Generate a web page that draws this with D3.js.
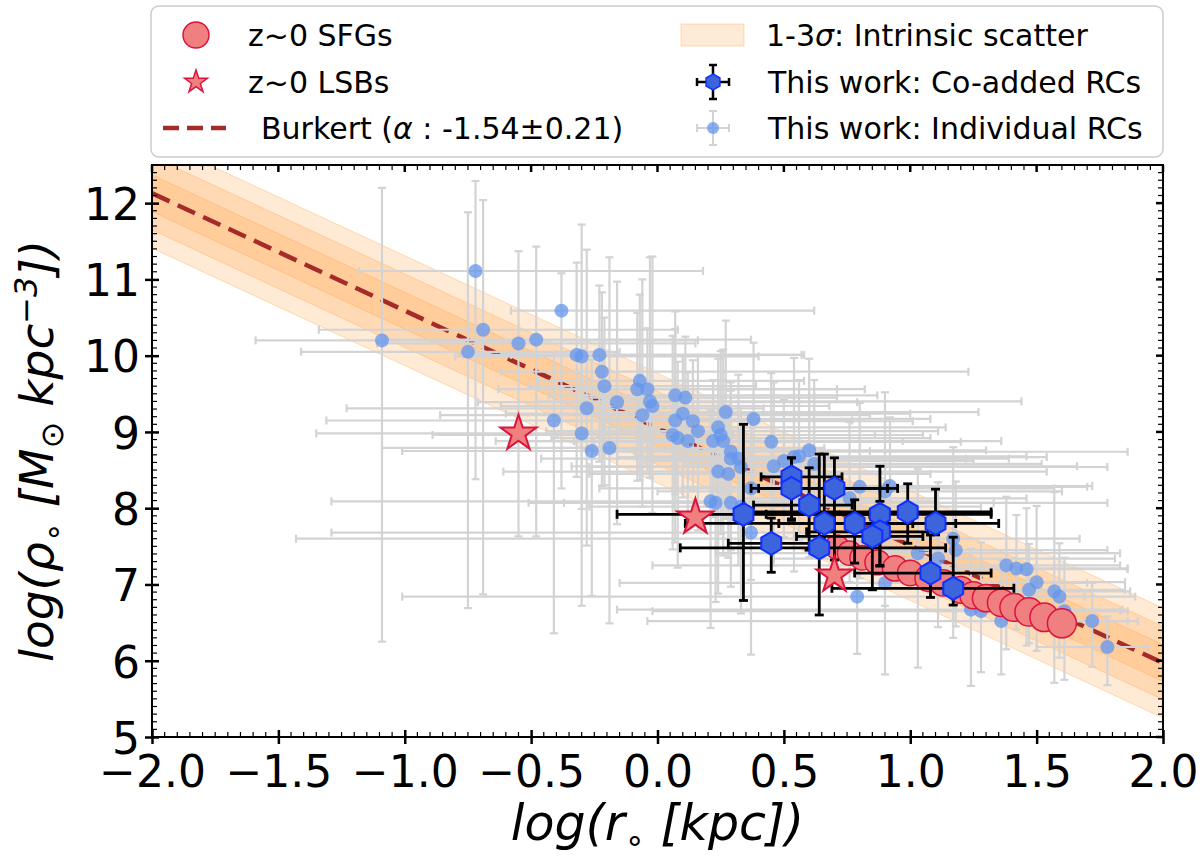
<!DOCTYPE html>
<html>
<head>
<meta charset="utf-8">
<script src="https://cdn.jsdelivr.net/npm/d3@7"></script>
<style>
  body { margin: 0; background: #fff; }
  text { font-family: "DejaVu Sans", sans-serif; }
</style>
</head>
<body>
<svg id="chart" width="1200" height="867"></svg>
<script>
'use strict';

//DATA=======================================================
// individual rotation curves (log r0, log rho0) with asymmetric errors
const indX = [-1.09,-0.72,-0.69,-0.75,-0.55,-0.48,-0.38,-0.32,-0.30,-0.23,
  -0.22,-0.21,-0.16,-0.28,-0.41,-0.30,-0.26,-0.19,-0.07,-0.08,
  -0.04,-0.03,-0.02,-0.06,0.07,0.11,0.10,0.07,0.14,0.16,
  0.06,0.08,0.12,0.27,0.38,0.24,0.25,0.22,0.26,0.45,
  0.29,0.29,0.32,0.33,0.24,0.28,0.60,0.56,0.46,0.50,
  0.54,0.37,0.21,0.23,0.29,0.33,0.37,0.80,0.90,1.17,
  1.18,1.03,1.11,0.90,0.79,1.38,1.42,1.46,1.50,1.47,
  1.57,1.59,1.24,1.28,1.36,1.61,1.72,1.78,0.92,0.76,0.62];
const indY = [10.20,11.11,10.34,10.05,10.16,10.21,10.59,10.01,9.99,10.01,
  9.79,9.60,9.39,9.31,9.15,8.98,8.75,8.79,9.67,9.56,
  9.56,9.40,9.34,9.22,9.48,9.45,9.24,9.15,9.14,9.01,
  8.96,8.92,8.88,9.26,9.17,9.06,8.96,8.88,8.88,8.87,
  8.74,8.65,8.65,8.54,8.48,8.45,8.76,8.68,8.55,8.62,
  8.67,8.26,8.09,8.07,8.07,8.02,7.68,8.28,8.22,7.60,
  7.45,7.41,7.34,7.02,6.84,7.25,7.21,7.20,7.03,6.93,
  6.91,6.84,6.67,6.65,6.52,6.65,6.52,6.18,8.29,8.13,8.58];
const indXLo = [0.50,0.46,0.65,0.66,0.56,0.60,0.20,0.45,0.50,0.35,
  0.40,0.30,0.55,0.95,0.90,1.05,0.75,0.90,0.40,0.55,
  0.30,0.45,0.60,0.80,0.50,0.40,0.70,0.45,0.55,0.60,
  0.95,0.50,0.70,0.55,0.60,0.45,0.65,0.55,0.90,0.70,
  0.50,0.75,0.40,0.60,0.85,0.55,0.90,0.65,0.80,0.55,
  0.70,0.60,1.50,0.60,0.80,0.60,1.66,0.70,0.90,2.60,
  0.55,0.80,0.65,1.05,1.80,1.40,0.40,0.35,0.30,0.40,
  0.35,0.30,1.40,1.30,1.40,0.25,0.20,0.28,0.60,0.55,0.50];
const indXHi = [1.25,0.90,0.77,0.60,0.70,0.85,1.00,0.90,0.70,0.80,
  1.45,0.60,0.95,0.70,0.80,0.60,1.10,0.85,0.65,0.90,
  0.75,1.47,0.70,0.90,0.80,0.60,0.90,0.70,0.87,0.95,
  0.80,1.00,0.85,1.00,0.70,0.90,0.80,0.70,1.10,0.75,
  1.57,1.10,0.90,1.45,1.30,0.80,0.70,0.90,1.20,0.75,
  1.00,1.20,0.90,1.10,1.49,0.95,0.80,0.90,0.70,0.50,
  0.60,0.80,0.70,0.80,0.90,0.45,0.44,0.40,0.35,0.38,
  0.30,0.30,0.60,0.55,0.50,0.25,0.18,0.16,0.80,0.70,0.90];
const indYLo = [3.95,2.73,3.47,3.36,2.53,2.58,2.33,1.60,2.00,1.40,
  1.50,1.30,1.60,1.80,2.79,2.26,1.90,2.30,1.30,1.20,
  1.10,1.00,1.40,1.20,1.30,0.90,1.10,1.60,0.90,1.30,
  1.50,1.70,1.10,1.40,1.20,1.00,1.30,1.00,1.50,1.20,
  0.90,1.20,1.40,1.00,1.60,1.10,1.40,1.10,1.30,1.00,
  1.50,1.20,1.66,1.30,1.10,1.40,1.60,1.20,1.50,1.30,
  1.00,1.50,0.90,1.20,0.75,1.10,0.80,1.00,0.90,0.70,
  1.20,0.80,1.00,0.80,0.70,0.90,0.60,0.50,1.00,1.10,1.20];
const indYHi = [2.00,1.18,1.70,1.83,1.21,1.22,0.49,1.21,1.73,0.91,
  1.04,0.90,1.58,2.08,0.90,1.10,1.20,2.50,1.13,1.00,
  0.80,1.89,1.96,1.78,1.10,0.80,0.76,1.20,0.80,1.00,
  1.30,1.00,0.90,1.20,1.00,0.90,1.10,0.80,1.20,0.90,
  0.80,1.00,1.10,0.80,1.20,0.90,1.20,1.00,1.10,0.80,
  1.30,1.00,1.20,1.00,0.90,1.00,1.10,1.10,1.30,1.20,
  0.90,1.10,1.00,1.30,1.00,0.90,0.70,0.80,1.00,0.60,
  1.30,0.70,0.80,0.90,0.80,0.70,0.50,0.40,0.90,1.00,1.10];

// co-added rotation curves
const coX = [0.34,0.45,0.53,0.53,0.70,0.60,0.66,0.64,0.78,0.88,0.88,0.85,0.99,1.10,1.08,1.17];
const coY = [7.92,7.54,8.41,8.26,8.26,8.04,7.80,7.48,7.80,7.92,7.69,7.63,7.95,7.80,7.15,6.95];
const coXLo = [0.50,0.17,0.12,0.16,0.30,0.22,0.55,0.55,0.30,0.45,0.29,0.30,0.63,0.35,0.30,0.48];
const coXHi = [0.50,0.18,0.20,0.38,0.25,0.17,0.35,0.50,0.40,0.44,0.19,0.20,0.33,0.25,0.24,0.24];
const coYLo = [1.13,0.38,0.57,0.40,0.94,0.59,0.38,0.88,0.52,0.67,0.45,0.70,0.41,0.15,0.32,0.22];
const coYHi = [1.18,0.33,0.25,0.40,0.40,0.49,0.91,1.23,0.31,0.63,0.40,0.30,0.37,0.45,0.50,0.67];

// z~0 star forming galaxies and low surface brightness galaxies
const sfgX = [0.71,0.76,0.81,0.87,0.94,1.00,1.07,1.13,1.20,1.25,1.30,1.36,1.41,1.47,1.53,1.60];
const sfgY = [7.49,7.41,7.35,7.29,7.21,7.15,7.08,7.02,6.93,6.86,6.82,6.76,6.70,6.64,6.57,6.49];
const lsbX = [-0.55, 0.15, 0.70];
const lsbY = [8.98, 7.88, 7.12];

// Burkert fit and intrinsic scatter
const fitSlope = -1.54;
const fitIntercept = 9.05;
const scatterSigma = 0.24;
const sigmaLevels = [3, 2, 1];

const xTicks = [-2.0, -1.5, -1.0, -0.5, 0.0, 0.5, 1.0, 1.5, 2.0];
const yTicks = [5, 6, 7, 8, 9, 10, 11, 12];

//SETUP======================================================
const pLeft = 152, pRight = 1163, pTop = 165, pBottom = 737;
const svg = d3.select('#chart');

const xScale = d3.scaleLinear().domain([-2, 2]).range([pLeft, pRight]);
const yScale = d3.scaleLinear().domain([5, 12.5]).range([pBottom, pTop]);

svg.append('defs').append('clipPath').attr('id', 'plotClip')
  .append('rect')
  .attr('x', pLeft).attr('y', pTop)
  .attr('width', pRight - pLeft).attr('height', pBottom - pTop);

const plot = svg.append('g').attr('clip-path', 'url(#plotClip)');

//scatter bands, widest first
const bandColor = '#ffa040';
sigmaLevels.forEach(n => {
  const area = d3.area()
    .x(d => xScale(d))
    .y0(d => yScale(fitIntercept + fitSlope * d - n * scatterSigma))
    .y1(d => yScale(fitIntercept + fitSlope * d + n * scatterSigma));
  plot.append('path')
    .datum([-2.3, 2.3])
    .attr('d', area)
    .attr('fill', bandColor)
    .attr('fill-opacity', 0.22)
    .attr('stroke', bandColor)
    .attr('stroke-opacity', 0.35)
    .attr('stroke-width', 1);
});

//fit line
plot.append('line')
  .attr('x1', xScale(-2.3)).attr('y1', yScale(fitIntercept + fitSlope * -2.3))
  .attr('x2', xScale(2.3)).attr('y2', yScale(fitIntercept + fitSlope * 2.3))
  .attr('stroke', '#a52a2a')
  .attr('stroke-width', 4.5)
  .attr('stroke-dasharray', '19,9');

//errorbar helper: draws the bars + caps for a set of points
function errorBars(g, xs, ys, xLo, xHi, yLo, yHi, color, width, cap) {
  const segs = [];
  d3.range(xs.length).forEach(i => {
    const cx = xScale(xs[i]), cy = yScale(ys[i]);
    const x0 = xScale(xs[i] - xLo[i]), x1 = xScale(xs[i] + xHi[i]);
    const y0 = yScale(ys[i] - yLo[i]), y1 = yScale(ys[i] + yHi[i]);
    segs.push([x0, cy, x1, cy], [cx, y0, cx, y1],
      [x0, cy - cap, x0, cy + cap], [x1, cy - cap, x1, cy + cap],
      [cx - cap, y0, cx + cap, y0], [cx - cap, y1, cx + cap, y1]);
  });
  g.selectAll(null).data(segs).enter().append('line')
    .attr('x1', d => d[0]).attr('y1', d => d[1])
    .attr('x2', d => d[2]).attr('y2', d => d[3])
    .attr('stroke', color)
    .attr('stroke-width', width);
}

//individual RCs
errorBars(plot.append('g'), indX, indY, indXLo, indXHi, indYLo, indYHi, '#d3d3d3', 2.2, 4);
plot.append('g').selectAll('circle')
  .data(d3.range(indX.length)).enter().append('circle')
  .attr('cx', i => xScale(indX[i]))
  .attr('cy', i => yScale(indY[i]))
  .attr('r', 7)
  .attr('fill', '#6495ed')
  .attr('fill-opacity', 0.75);

//SFGs, markers grow slightly along the sequence
const sfgRadius = d3.scaleLinear().domain(d3.extent(sfgX)).range([12, 14.5]);
plot.append('g').selectAll('circle')
  .data(d3.range(sfgX.length)).enter().append('circle')
  .attr('cx', i => xScale(sfgX[i]))
  .attr('cy', i => yScale(sfgY[i]))
  .attr('r', i => sfgRadius(sfgX[i]))
  .attr('fill', '#f08080')
  .attr('stroke', '#dc143c')
  .attr('stroke-width', 1.5);

//star + hexagon shapes
function starPath(R) {
  const pts = d3.range(10).map(k => [k * Math.PI / 5, k % 2 ? R * 0.382 : R]);
  return d3.lineRadial().curve(d3.curveLinearClosed)(pts);
}
function hexPath(R) {
  const pts = d3.range(6).map(k => [k * Math.PI / 3, R]);
  return d3.lineRadial().curve(d3.curveLinearClosed)(pts);
}

//co-added RCs
errorBars(plot.append('g'), coX, coY, coXLo, coXHi, coYLo, coYHi, '#000', 2.8, 4.5);

//LSBs
plot.append('g').selectAll('path')
  .data(d3.range(lsbX.length)).enter().append('path')
  .attr('d', starPath(19))
  .attr('transform', i => `translate(${xScale(lsbX[i])},${yScale(lsbY[i])})`)
  .attr('fill', '#f08080')
  .attr('stroke', '#dc143c')
  .attr('stroke-width', 2)
  .attr('stroke-linejoin', 'miter');

plot.append('g').selectAll('path')
  .data(d3.range(coX.length)).enter().append('path')
  .attr('d', hexPath(11.5))
  .attr('transform', i => `translate(${xScale(coX[i])},${yScale(coY[i])})`)
  .attr('fill', '#3c64dc')
  .attr('stroke', '#1030ff')
  .attr('stroke-width', 2);

//AXES=======================================================
const tickFont = 44;
const xAxis = svg.append('g')
  .attr('transform', `translate(0,${pBottom})`)
  .call(d3.axisBottom(xScale).tickValues(xTicks).tickFormat(d3.format('.1f')).tickSizeOuter(0));
const yAxis = svg.append('g')
  .attr('transform', `translate(${pLeft},0)`)
  .call(d3.axisLeft(yScale).tickValues(yTicks).tickFormat(d3.format('d')).tickSizeOuter(0));

[xAxis, yAxis].forEach(ax => {
  ax.select('.domain').remove();
  ax.selectAll('text').attr('font-size', tickFont).attr('fill', '#000')
    .attr('font-family', '"DejaVu Sans", sans-serif');
  ax.selectAll('line').attr('stroke', '#000').attr('stroke-width', 2.5);
});
xAxis.selectAll('.tick line').attr('y1', -7).attr('y2', 7);
xAxis.selectAll('.tick text').attr('y', 50).attr('dy', null);
yAxis.selectAll('.tick line').attr('x1', -7).attr('x2', 7);
yAxis.selectAll('.tick text').attr('x', -12).attr('dy', '0.37em');

//top + right major ticks and all minor ticks, pointing inward
const ticks = svg.append('g').attr('stroke', '#000');
xTicks.forEach(v => {
  ticks.append('line').attr('x1', xScale(v)).attr('x2', xScale(v))
    .attr('y1', pTop).attr('y2', pTop + 7).attr('stroke-width', 2.5);
});
yTicks.forEach(v => {
  ticks.append('line').attr('y1', yScale(v)).attr('y2', yScale(v))
    .attr('x1', pRight).attr('x2', pRight - 7).attr('stroke-width', 2.5);
});
d3.range(-40, 41).filter(k => k % 10 !== 0).map(k => k / 20).forEach(v => {
  ticks.append('line').attr('x1', xScale(v)).attr('x2', xScale(v))
    .attr('y1', pBottom).attr('y2', pBottom - 5).attr('stroke-width', 1.2);
  ticks.append('line').attr('x1', xScale(v)).attr('x2', xScale(v))
    .attr('y1', pTop).attr('y2', pTop + 5).attr('stroke-width', 1.2);
});
d3.range(50, 126).filter(k => k % 10 !== 0).map(k => k / 10).forEach(v => {
  ticks.append('line').attr('y1', yScale(v)).attr('y2', yScale(v))
    .attr('x1', pLeft).attr('x2', pLeft + 5).attr('stroke-width', 1.2);
  ticks.append('line').attr('y1', yScale(v)).attr('y2', yScale(v))
    .attr('x1', pRight).attr('x2', pRight - 5).attr('stroke-width', 1.2);
});

//frame
svg.append('rect')
  .attr('x', pLeft).attr('y', pTop)
  .attr('width', pRight - pLeft).attr('height', pBottom - pTop)
  .attr('fill', 'none').attr('stroke', '#000').attr('stroke-width', 2);

//axis titles
const xTitle = svg.append('text')
  .attr('x', (pLeft + pRight) / 2).attr('y', 840)
  .attr('text-anchor', 'middle').attr('font-size', 49).attr('font-style', 'italic');
xTitle.append('tspan').text('log(r');
xTitle.append('tspan').attr('font-size', 32).attr('dy', 11).attr('font-style', 'normal').text('\u2218');
xTitle.append('tspan').attr('dy', -11).text(' [kpc])');

const yTitle = svg.append('text')
  .attr('transform', 'translate(53,451) rotate(-90)')
  .attr('text-anchor', 'middle').attr('font-size', 47).attr('font-style', 'italic');
yTitle.append('tspan').text('log(\u03c1');
yTitle.append('tspan').attr('font-size', 32).attr('dy', 11).attr('font-style', 'normal').text('\u2218');
yTitle.append('tspan').attr('dy', -11).text(' [M');
yTitle.append('tspan').attr('font-size', 32).attr('dy', 10).attr('font-style', 'normal').text('\u2299');
yTitle.append('tspan').attr('dy', -10).text(' kpc');
yTitle.append('tspan').attr('font-size', 32).attr('dy', -16).text('\u22123');
yTitle.append('tspan').attr('dy', 16).text('])');

//LEGEND=====================================================
const legend = svg.append('g');
legend.append('rect')
  .attr('x', 151).attr('y', 6).attr('width', 1012).attr('height', 151)
  .attr('rx', 8).attr('fill', '#fff').attr('fill-opacity', 0.8)
  .attr('stroke', '#cccccc').attr('stroke-width', 1.5);

const legFont = 30;
const rowY = [35, 82, 128];
function legText(x, yc) {
  return legend.append('text').attr('x', x).attr('y', yc + 10.5).attr('font-size', legFont);
}

legend.append('circle').attr('cx', 196).attr('cy', rowY[0]).attr('r', 13)
  .attr('fill', '#f08080').attr('stroke', '#dc143c').attr('stroke-width', 1.5);
legText(248, rowY[0]).text('z~0 SFGs');

legend.append('path').attr('d', starPath(12))
  .attr('transform', `translate(196,${rowY[1]})`)
  .attr('fill', '#f08080').attr('stroke', '#dc143c').attr('stroke-width', 1.5);
legText(248, rowY[1]).text('z~0 LSBs');

legend.append('line').attr('x1', 163).attr('x2', 226).attr('y1', rowY[2]).attr('y2', rowY[2])
  .attr('stroke', '#a52a2a').attr('stroke-width', 4.5).attr('stroke-dasharray', '16,8');
const burk = legText(261, rowY[2]);
burk.append('tspan').text('Burkert (');
burk.append('tspan').attr('font-style', 'italic').text('\u03b1');
burk.append('tspan').text(' : -1.54\u00b10.21)');

legend.append('rect').attr('x', 681).attr('y', rowY[0] - 11).attr('width', 63).attr('height', 22)
  .attr('fill', bandColor).attr('fill-opacity', 0.22)
  .attr('stroke', bandColor).attr('stroke-opacity', 0.35);
const sig = legText(766, rowY[0]);
sig.append('tspan').text('1-3');
sig.append('tspan').attr('font-style', 'italic').text('\u03c3');
sig.append('tspan').text(': Intrinsic scatter');

function legErr(cx, cy, color, w) {
  [[cx - 16, cy, cx + 16, cy], [cx, cy - 17, cx, cy + 17],
   [cx - 16, cy - 4, cx - 16, cy + 4], [cx + 16, cy - 4, cx + 16, cy + 4],
   [cx - 4, cy - 17, cx + 4, cy - 17], [cx - 4, cy + 17, cx + 4, cy + 17]].forEach(s => {
    legend.append('line').attr('x1', s[0]).attr('y1', s[1]).attr('x2', s[2]).attr('y2', s[3])
      .attr('stroke', color).attr('stroke-width', w);
  });
}
legErr(713, rowY[1], '#000', 2.5);
legend.append('path').attr('d', hexPath(8))
  .attr('transform', `translate(713,${rowY[1]})`)
  .attr('fill', '#3c64dc').attr('stroke', '#1030ff').attr('stroke-width', 1.5);
legText(768, rowY[1]).text('This work: Co-added RCs');

legErr(713, rowY[2], '#d3d3d3', 2);
legend.append('circle').attr('cx', 713).attr('cy', rowY[2]).attr('r', 6)
  .attr('fill', '#6495ed').attr('fill-opacity', 0.75);
legText(768, rowY[2]).text('This work: Individual RCs');
</script>
</body>
</html>
